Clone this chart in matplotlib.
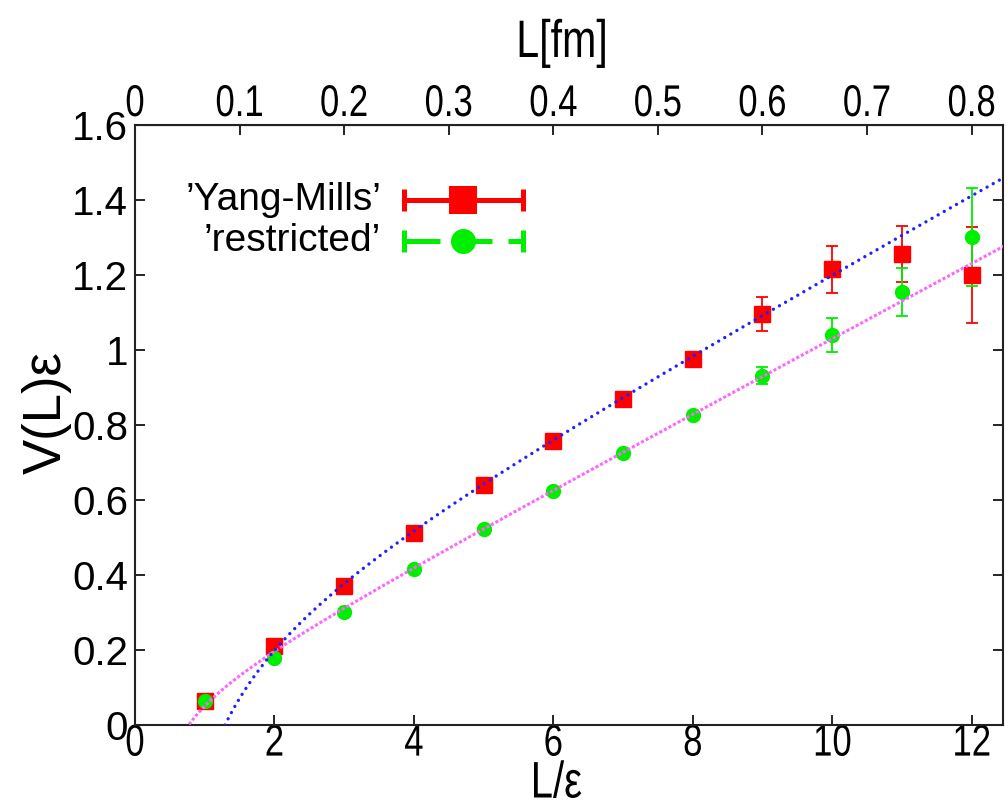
import numpy as np
import matplotlib
matplotlib.use("Agg")
import matplotlib.pyplot as plt
from matplotlib.patheffects import AbstractPathEffect
from matplotlib.transforms import Affine2D

# lattice extent L/eps
L = [1, 2, 3, 4, 5, 6, 7, 8, 9, 10, 11, 12]

# Yang-Mills potential and errors
ym_v = [0.065, 0.212, 0.370, 0.511, 0.641, 0.758, 0.870, 0.977, 1.097, 1.215, 1.256, 1.200]
ym_err = [0.004, 0.005, 0.006, 0.007, 0.008, 0.009, 0.010, 0.015, 0.045, 0.062, 0.075, 0.128]

# restricted potential and errors
rs_v = [0.065, 0.180, 0.301, 0.417, 0.524, 0.625, 0.726, 0.826, 0.932, 1.040, 1.155, 1.301]
rs_err = [0.003, 0.004, 0.005, 0.005, 0.006, 0.007, 0.008, 0.010, 0.023, 0.045, 0.065, 0.130]

# fit parameters V(L) = A + sigma*L - alpha/L
ym_fit = dict(A=0.2228, sigma=0.1022, alpha=0.4576)
rs_fit = dict(A=0.0431, sigma=0.0996, alpha=0.0922)

x_ticks = [0, 2, 4, 6, 8, 10, 12]
y_ticks = [0, 0.2, 0.4, 0.6, 0.8, 1.0, 1.2, 1.4, 1.6]
y_ticklabels = ['0', '0.2', '0.4', '0.6', '0.8', '1', '1.2', '1.4', '1.6']
fm_ticks = [0, 0.1, 0.2, 0.3, 0.4, 0.5, 0.6, 0.7, 0.8]
fm_ticklabels = ['0', '0.1', '0.2', '0.3', '0.4', '0.5', '0.6', '0.7', '0.8']
fm_per_eps = 1.0 / 15.0

REG = ['Liberation Sans', 'DejaVu Sans']


class Squeeze(AbstractPathEffect):
    # narrow the glyphs horizontally around the text centre
    def __init__(self, sx):
        super().__init__()
        self.sx = sx

    def draw_path(self, renderer, gc, tpath, affine, rgbFace=None):
        ext = tpath.get_extents()
        cx = 0.5 * (ext.x0 + ext.x1)
        sq = Affine2D().translate(-cx, 0).scale(self.sx, 1).translate(cx, 0)
        renderer.draw_path(gc, tpath, sq + affine, rgbFace)


narrow = [Squeeze(0.78)]

W, H = 1007, 810
fig = plt.figure(figsize=(W / 100, H / 100), dpi=100)
ax = fig.add_axes([135 / W, 1 - 725 / H, 868 / W, 600 / H])

red = '#ff0000'
green = '#00ee00'

ax.errorbar(L, ym_v, yerr=ym_err, fmt='s', color=red, ms=11.5, mec=red,
            elinewidth=1.3, capsize=4, capthick=1.3, zorder=3)
ax.errorbar(L, rs_v, yerr=rs_err, fmt='o', color=green, ms=10, mec=green,
            elinewidth=1.3, capsize=4, capthick=1.3, zorder=3)

xs = np.linspace(0.3, 12.6, 600)
def pot(p, x):
    return p['A'] + p['sigma'] * x - p['alpha'] / x

ax.plot(xs, pot(rs_fit, xs), color='#ff66ff', lw=2.2, ls=(0, (1, 0.7)), zorder=4)
ax.plot(xs, pot(ym_fit, xs), color='#2020ff', lw=2.4, ls=(0, (0.01, 2.1)),
        dash_capstyle='round', zorder=5)

ax.set_xlim(0, 12.45)
ax.set_ylim(0, 1.6)
ax.set_xticks(x_ticks)
ax.set_xticklabels([str(t) for t in x_ticks], fontsize=32, family=REG)
for t in ax.get_xticklabels():
    t.set_path_effects(narrow)
ax.set_yticks(y_ticks)
ax.set_yticklabels(y_ticklabels, fontsize=29, family=REG)
ax.tick_params(axis='both', direction='in', length=7, width=1.2, right=True)
ax.tick_params(axis='x', pad=-1)
ax.tick_params(axis='y', pad=5)
for s in ax.spines.values():
    s.set_linewidth(1.5)
    s.set_color('#222222')

top = ax.secondary_xaxis('top', functions=(lambda x: x * fm_per_eps, lambda f: f / fm_per_eps))
top.set_xticks(fm_ticks)
top.set_xticklabels(fm_ticklabels, fontsize=32, family=REG)
for t in top.get_xticklabels():
    t.set_path_effects(narrow)
top.tick_params(direction='in', length=7, width=1.2, pad=0)

fig.text(562 / W, 1 - 43 / H, 'L[fm]', fontsize=38, family=REG, ha='center',
         va='center', path_effects=narrow)
fig.text(556 / W, 1 - 784 / H, 'L/ε', fontsize=37, family=REG, ha='center',
         va='center', path_effects=narrow)
fig.text(47 / W, 1 - 412 / H, 'V(L)ε', fontsize=38, family=REG, rotation=90,
         ha='center', va='center')

# legend drawn gnuplot style
def ax_x(px):
    return (px - 135) / 868
def ax_y(py):
    return (725 - py) / 600

x0, x1, xm = ax_x(404), ax_x(523), ax_x(463)
yr, yg = ax_y(200), ax_y(241)
tr = ax.transAxes
ax.plot([x0, x1], [yr, yr], color=red, lw=3.6, transform=tr, clip_on=False, solid_capstyle='butt')
ax.plot([x0, x1], [yr, yr], ls='none', marker='|', ms=16, mew=3.6, color=red, transform=tr, clip_on=False)
ax.plot([xm], [yr], ls='none', marker='s', ms=20, mew=0, color=red, transform=tr, clip_on=False)
ax.plot([x0, x1], [yg, yg], color=green, lw=3.6, ls=(0, (7.2, 3.2)), transform=tr, clip_on=False)
ax.plot([x0, x1], [yg, yg], ls='none', marker='|', ms=16, mew=3.6, color=green, transform=tr, clip_on=False)
ax.plot([xm], [yg], ls='none', marker='o', ms=18, mew=0, color=green, transform=tr, clip_on=False)
ax.text(ax_x(381), yr, '\u2019Yang-Mills\u2019', fontsize=28, family=REG, ha='right', va='center', transform=tr)
ax.text(ax_x(381), yg, '\u2019restricted\u2019', fontsize=28, family=REG, ha='right', va='center', transform=tr)

fig.savefig('out.png', dpi=100)
